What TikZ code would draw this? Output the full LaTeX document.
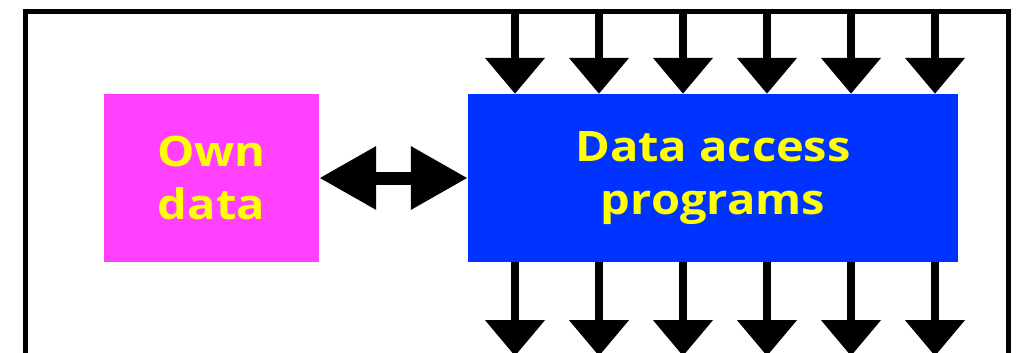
\documentclass[tikz,border=0pt]{standalone}
\usepackage{fontspec}
\setmainfont{Open Sans}[FakeStretch=1.12]
\usetikzlibrary{arrows.meta}
\definecolor{ownpink}{HTML}{FF40FF}
\definecolor{accblue}{HTML}{0033FF}
\definecolor{txtyellow}{HTML}{FFFF00}
\tikzset{
  framebox/.style={line width=5pt,draw=black},
  databox/.style={draw=none,inner sep=0pt,align=center,text=txtyellow,
                  font=\bfseries\fontsize{42}{53}\selectfont,minimum height=168pt},
  flowarrow/.style={line width=8.5pt,-{Triangle[width=58pt,length=36pt]}},
  dblarrow/.style={line width=13pt,{Triangle[width=60pt,length=57pt]}-{Triangle[width=60pt,length=57pt]}}
}
\begin{document}
\begin{tikzpicture}[x=1pt,y=-1pt]
\useasboundingbox (0,0) rectangle (1023,353);
% frame
\coordinate (fbl) at (25,380);
\coordinate (ftl) at (25,11.5);
\coordinate (ftr) at (1008,11.5);
\coordinate (fbr) at (1008,380);
\draw[framebox] (fbl) -- (ftl) -- (ftr) -- (fbr);
% boxes
\node[databox,fill=ownpink,minimum width=215pt] (own) at (211.5,178) {Own\\data};
\node[databox,fill=accblue,minimum width=490pt] (dap) at (713,178) {Data access\\programs};
% double arrow
\draw[dblarrow] (own.east) -- (dap.west);
% top and bottom arrows
\foreach \i/\x in {1/515,2/599,3/683,4/767,5/851,6/935}{
  \coordinate (t\i) at (\x,11.5);
  \coordinate (b\i) at (\x,356);
  \draw[flowarrow] (t\i) -- (t\i |- dap.north);
  \draw[flowarrow] (t\i |- dap.south) -- (b\i);
}
\end{tikzpicture}
\end{document}
